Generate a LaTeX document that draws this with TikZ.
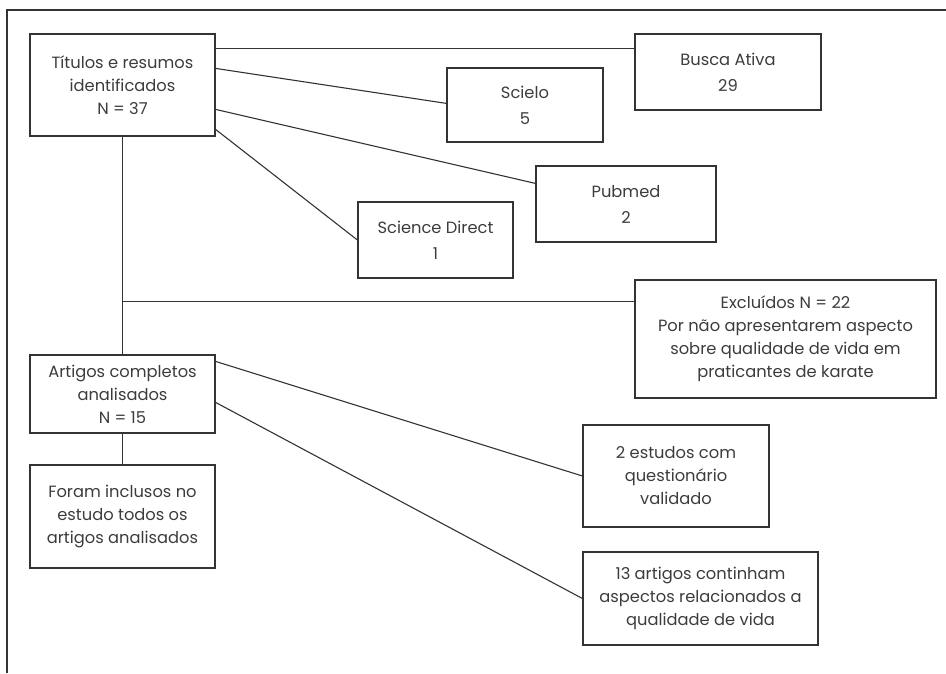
\documentclass[tikz,border=0pt]{standalone}
\usepackage{fontspec}
\setmainfont{Poppins}
\usetikzlibrary{calc}
\definecolor{ink}{HTML}{333333}
\definecolor{txt}{HTML}{3C3C3C}
\begin{document}
\begin{tikzpicture}[x=1pt,y=1pt,
  box/.style={draw=ink,line width=1.2pt,rectangle,inner sep=0pt,align=center,
    text=txt,font=\fontsize{16.3}{23}\selectfont},
  link/.style={draw=ink,line width=1.1pt}]
\useasboundingbox (0,0) rectangle (946,-673);
\draw[ink,line width=1.1pt] (7,-673) -- (7,-10) -- (946,-10);

\node[box,minimum width=185,minimum height=102] (tit) at (122.5,-85) {Títulos e resumos\\identificados\\N = 37};
\node[box,minimum width=186,minimum height=76] (busca) at (728,-72) {Busca Ativa\\[3pt]29};
\node[box,minimum width=156,minimum height=74] (scielo) at (525,-105) {Scielo\\[3pt]5};
\node[box,minimum width=180,minimum height=76] (pubmed) at (626,-204) {Pubmed\\[3pt]2};
\node[box,minimum width=155,minimum height=76] (sd) at (435.5,-240) {Science Direct\\[3pt]1};
\node[box,minimum width=301,minimum height=118] (excl) at (785.5,-339) {Excluídos N = 22\\Por não apresentarem aspecto\\sobre qualidade de vida em\\praticantes de karate};
\node[box,minimum width=185,minimum height=78] (art) at (122.5,-394) {Artigos completos\\analisados\\N = 15};
\node[box,minimum width=185,minimum height=103] (foram) at (122.5,-516.5) {Foram inclusos no\\estudo todos os\\artigos analisados};
\node[box,minimum width=186,minimum height=102] (est2) at (676,-476) {2 estudos com\\questionário\\validado};
\node[box,minimum width=235,minimum height=93] (art13) at (700.5,-598.5) {13 artigos continham\\aspectos relacionados a\\qualidade de vida};

\draw[link] ($(tit.north east)+(0,-15)$) -- ($(busca.north west)+(0,-15)$);
\draw[link] ($(tit.north east)+(0,-35)$) -- ($(scielo.north west)+(0,-36)$);
\draw[link] ($(tit.north east)+(0,-76)$) -- ($(pubmed.north west)+(0,-18)$);
\draw[link] ($(tit.north east)+(0,-96)$) -- (sd.west);
\draw[link] (tit.south) -- (art.north);
\draw[link] ($(excl.north west)+(0,-22)$) coordinate (ej) -- (ej -| tit.south);
\draw[link] ($(art.north east)+(0,-7)$) -- (est2.west);
\draw[link] ($(art.north east)+(0,-48)$) -- (art13.west);
\draw[link] (art.south) -- (foram.north);
\end{tikzpicture}
\end{document}
